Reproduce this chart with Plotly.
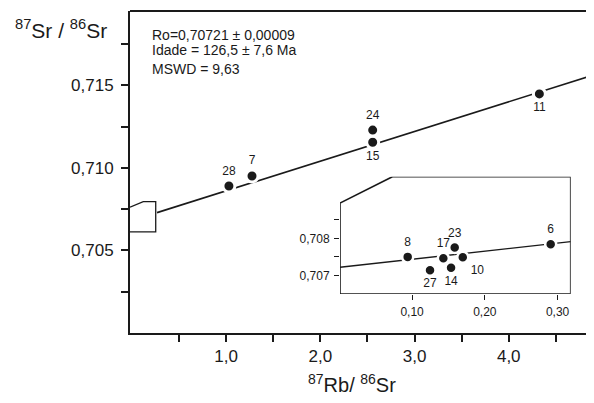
import plotly.graph_objects as go

# ---- main diagram data (87Rb/86Sr vs 87Sr/86Sr) ----
main_ids = ["28", "7", "15", "24", "11"]
main_x = [1.03, 1.275, 2.556, 2.556, 4.325]
main_y = [0.70890, 0.70951, 0.71155, 0.71229, 0.71448]
main_label_pos = ["top center", "top center", "bottom center", "top center", "bottom center"]

iso_x = [0.267, 4.905]
iso_y = [0.70729, 0.71563]

# ---- inset data ----
inset_ids = ["8", "17", "23", "10", "14", "27", "6"]
inset_x = [0.094, 0.143, 0.1586, 0.1697, 0.1536, 0.1247, 0.2905]
inset_y = [0.70750, 0.70746, 0.70775, 0.70749, 0.70721, 0.70714, 0.70784]
inset_label_pos = ["top center", "top center", "top center", "bottom right",
                   "bottom center", "bottom center", "top center"]
inset_line_x = [0.001, 0.318]
inset_line_y = [0.70722, 0.70791]

# ---- ticks ----
main_xticks = [0.5, 1.0, 1.5, 2.0, 2.5, 3.0, 3.5, 4.0, 4.5]
main_xtext = ["", "1,0", "", "2,0", "", "3,0", "", "4,0", ""]
main_yticks = [0.7025, 0.705, 0.7075, 0.710, 0.7125, 0.715, 0.7175]
main_ytext = ["", "0,705", "", "0,710", "", "0,715", ""]
inset_xticks = [0.1, 0.2, 0.3]
inset_xtext = ["0,10", "0,20", "0,30"]
inset_yticks = [0.707, 0.7075, 0.708, 0.7085]
inset_ytext = ["0,707", "", "0,708", ""]

# outlines (inset frame with cut corner, and small marker box on main plot)
inset_frame_x = [0.001, 0.001, 0.073, 0.318, 0.318]
inset_frame_y = [0.7065, 0.70895, 0.70966, 0.70966, 0.7065]
box_x = [-0.02, 0.121, 0.253, 0.253, -0.02]
box_y = [0.70762, 0.70796, 0.70796, 0.70612, 0.70612]

FONT = "Liberation Sans"
INK = "#1a1a1a"

# plot area in page pixels: x 130..594, y 11..333 (page has an 8px body margin)
PX0, PW = 130, 464
PY1, PH = 333, 322


def px_x(p):
    return (p - PX0) / PW


def px_y(p):
    return (PY1 - p) / PH


fig = go.Figure()

fig.add_trace(go.Scatter(x=iso_x, y=iso_y, mode="lines",
                         line=dict(color=INK, width=1.6), hoverinfo="skip",
                         showlegend=False))
fig.add_trace(go.Scatter(x=main_x, y=main_y, mode="markers+text", text=main_ids,
                         textposition=main_label_pos,
                         textfont=dict(family=FONT, size=12, color=INK),
                         marker=dict(size=12, color=INK, line=dict(color="white", width=3)),
                         showlegend=False, cliponaxis=False))

fig.add_trace(go.Scatter(x=inset_line_x, y=inset_line_y, mode="lines", xaxis="x2", yaxis="y2",
                         line=dict(color=INK, width=1.4), hoverinfo="skip", showlegend=False))
fig.add_trace(go.Scatter(x=inset_x, y=inset_y, mode="markers+text", text=inset_ids,
                         xaxis="x2", yaxis="y2",
                         textposition=inset_label_pos,
                         textfont=dict(family=FONT, size=12, color=INK),
                         marker=dict(size=11, color=INK, line=dict(color="white", width=2.5)),
                         showlegend=False, cliponaxis=False))


def path(xs, ys, close):
    p = "M " + " L ".join(f"{a},{b}" for a, b in zip(xs, ys))
    return p + (" Z" if close else "")


shapes = [
    dict(type="line", xref="paper", yref="paper", x0=0, x1=1, y0=1, y1=1,
         line=dict(color=INK, width=2)),
    dict(type="path", xref="x2", yref="y2", path=path(inset_frame_x, inset_frame_y, True),
         line=dict(color=INK, width=1.6)),
    dict(type="path", xref="x", yref="y", path=path(box_x, box_y, False),
         line=dict(color=INK, width=1.3)),
]

annotations = [
    dict(text="<sup>87</sup>Sr / <sup>86</sup>Sr", xref="paper", yref="paper",
         x=px_x(61), y=px_y(29), showarrow=False,
         font=dict(family=FONT, size=21, color=INK), xanchor="center", yanchor="middle"),
    dict(text="<sup>87</sup>Rb/ <sup>86</sup>Sr", xref="paper", yref="paper",
         x=px_x(352), y=px_y(384), showarrow=False,
         font=dict(family=FONT, size=20, color=INK), xanchor="center", yanchor="middle"),
    dict(text="Ro=0,70721 ± 0,00009", xref="paper", yref="paper",
         x=px_x(150), y=px_y(35), showarrow=False, xanchor="left", yanchor="middle",
         font=dict(family=FONT, size=14, color=INK)),
    dict(text="Idade = 126,5 ± 7,6 Ma", xref="paper", yref="paper",
         x=px_x(150), y=px_y(50), showarrow=False, xanchor="left", yanchor="middle",
         font=dict(family=FONT, size=14, color=INK)),
    dict(text="MSWD = 9,63", xref="paper", yref="paper",
         x=px_x(150), y=px_y(69), showarrow=False, xanchor="left", yanchor="middle",
         font=dict(family=FONT, size=14, color=INK)),
]

fig.update_layout(
    width=586, height=395,
    margin=dict(l=122, r=0, t=3, b=70),
    paper_bgcolor="white", plot_bgcolor="white",
    shapes=shapes, annotations=annotations,
    xaxis=dict(range=[-0.02, 4.905], domain=[0, 1], showgrid=False, zeroline=False,
               showline=True, linecolor=INK, linewidth=2,
               tickmode="array", tickvals=main_xticks, ticktext=main_xtext,
               ticks="outside", ticklen=7, tickwidth=1.5, tickcolor=INK,
               ticklabelstandoff=0,
               tickfont=dict(family=FONT, size=17, color=INK)),
    yaxis=dict(range=[0.700, 0.7195], domain=[0, 1], showgrid=False, zeroline=False,
               showline=True, linecolor=INK, linewidth=2,
               tickmode="array", tickvals=main_yticks, ticktext=main_ytext,
               ticks="outside", ticklen=7, tickwidth=1.5, tickcolor=INK,
               ticklabelstandoff=4,
               tickfont=dict(family=FONT, size=17, color=INK)),
    xaxis2=dict(range=[0.001, 0.318], domain=[px_x(340), px_x(570.7)],
                anchor="y2", showgrid=False, zeroline=False, showline=False,
                tickmode="array", tickvals=inset_xticks, ticktext=inset_xtext,
                ticks="outside", ticklen=5, tickwidth=1.3, tickcolor=INK,
                ticklabelstandoff=2,
                tickfont=dict(family=FONT, size=12, color=INK)),
    yaxis2=dict(range=[0.7065, 0.70966], domain=[px_y(294), px_y(176.7)],
                anchor="x2", showgrid=False, zeroline=False, showline=False,
                tickmode="array", tickvals=inset_yticks, ticktext=inset_ytext,
                ticks="outside", ticklen=5, tickwidth=1.3, tickcolor=INK,
                ticklabelstandoff=2,
                tickfont=dict(family=FONT, size=12, color=INK)),
)

fig.write_html("out.html")
